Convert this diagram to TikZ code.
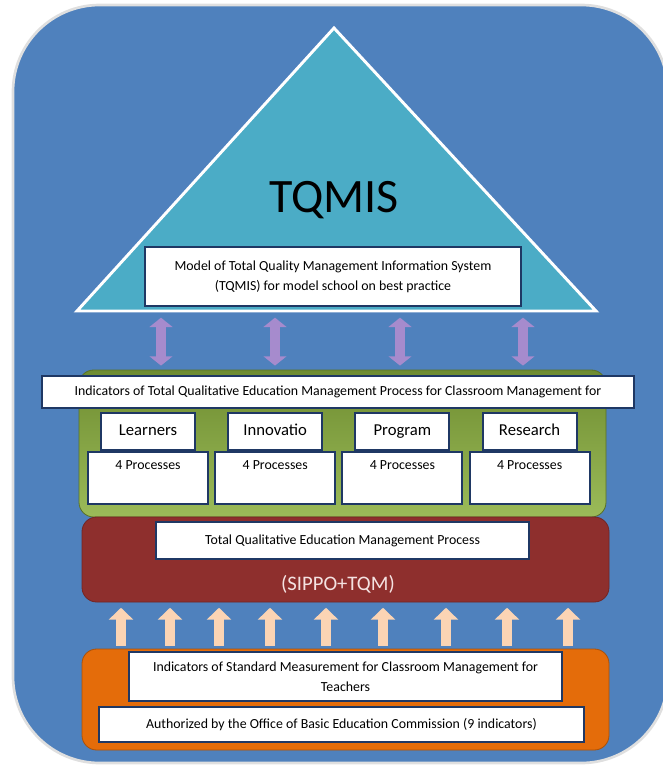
\documentclass[tikz,border=0pt]{standalone}
\usepackage{fontspec}
\setmainfont{Carlito}
\usepackage{tikz}
\usetikzlibrary{calc,positioning,arrows.meta,chains,shapes,fit,scopes}
\definecolor{bgblue}{HTML}{4F81BD}
\definecolor{pyramidcyan}{HTML}{4BACC6}
\definecolor{boxline}{HTML}{1F3864}
\definecolor{greendark}{HTML}{6E8C30}
\definecolor{greenlight}{HTML}{9BBB59}
\definecolor{reddark}{HTML}{8E2F2D}
\definecolor{redlight}{HTML}{C0504D}
\definecolor{orangepanel}{HTML}{E46C0A}
\definecolor{arrowpurple}{HTML}{A68BCD}
\definecolor{arrowpeach}{HTML}{FBD4B4}
\definecolor{sippopink}{HTML}{F4E2E1}
\tikzset{
    >={Triangle},
    whitebox/.style={
        rectangle,
        draw=boxline, line width=1.4pt,
        fill=white,
        align=center,
        inner sep=0pt
    },
    panel/.style={
        rectangle,
        rounded corners=11pt,
        minimum width=395.25pt,
        inner sep=0pt
    },
    catbox/.style={
        whitebox,
        minimum width=70.5pt,
        minimum height=27.75pt,
        text height=9pt, text depth=3pt,
        font=\fontsize{12.5}{15}\selectfont,
        on chain
    },
    procbox/.style={
        whitebox,
        minimum width=90pt,
        minimum height=39pt
    },
    purparrow/.style={
        draw=arrowpurple, line width=7.5pt,
        {Triangle[width=17pt,length=7pt]}-{Triangle[width=17pt,length=7pt]},
        shorten <=5pt, shorten >=3pt
    },
    peacharrow/.style={
        draw=arrowpeach, line width=7.5pt,
        -{Triangle[width=18pt,length=9pt]},
        shorten <=2pt, shorten >=4pt
    }
}

\begin{document}
\begin{tikzpicture}[
            x=0.75pt, y=-0.75pt,
            font=\fontsize{10.4}{15}\selectfont,
            pyramid/.style={
                fill=pyramidcyan,
                draw=white,
                line width=2.2pt,
                line join=miter
            },
            node distance=0pt and 23.5pt]
                \useasboundingbox (0,0) rectangle (663,768);
                \clip (0,0) rectangle (663,768);
                \draw[fill=bgblue, draw=gray!25, line width=2pt, rounded corners=65pt] (13,5) rectangle (668,763);

                \coordinate (apex) at (334,28);
                \coordinate (base left) at (77,311);
                \coordinate (base right) at (596,311);
                \draw[pyramid] (apex) -- (base right) -- (base left) -- cycle;
                \node (tqmis) at (334,200) {\fontsize{36}{40}\selectfont TQMIS};
                \node[whitebox, minimum width=282pt, minimum height=44pt] (model) at (333,276.5)
                    {Model of Total Quality Management Information System\\(TQMIS) for model school on best practice};

                \node[panel, minimum height=110.25pt, top color=greendark, bottom color=greenlight,
                      draw=greendark!80!black, line width=0.6pt] (green panel) at (342.5,443.5) {};
                \node[whitebox, minimum width=444pt, minimum height=24pt] (indicators) at (338,392)
                    {Indicators of Total Qualitative Education Management Process for Classroom Management for};
                { [start chain=cats going right]
                    \node[catbox] (L1) at (148,431.5) {Learners};
                    \node[catbox] (L2) {Innovatio};
                    \node[catbox] (L3) {Program};
                    \node[catbox] (L4) {Research};
                }
                \node[procbox, below=of L1] (P1) {4 Processes\\\strut};
                \node[procbox, below=of L2] (P2) {4 Processes\\\strut};
                \node[procbox, below=of L3] (P3) {4 Processes\\\strut};
                \node[procbox, below=of L4] (P4) {4 Processes\\\strut};

                \node[panel, minimum height=63.75pt, top color=reddark, middle color=redlight, bottom color=reddark,
                      draw=reddark!80!black, line width=0.6pt] (red panel) at (345.5,559.5) {};
                \node[whitebox, minimum width=279.75pt, minimum height=27.75pt] (tqem) at (342.5,540.5)
                    {Total Qualitative Education Management Process};
                \node[text=sippopink] (sippo) at (338,584) {\fontsize{15.5}{18}\selectfont (SIPPO+TQM)};

                \node[panel, minimum height=75.75pt, fill=orangepanel,
                      draw=orangepanel!75!black, line width=0.6pt] (orange panel) at (345.5,699.5) {};
                \node[whitebox, minimum width=324.75pt, minimum height=36.75pt] (standard) at (345.5,676.5)
                    {Indicators of Standard Measurement for Classroom Management for\\Teachers};
                \node[whitebox, minimum width=363.75pt, minimum height=26.25pt] (obec) at (341.5,724.5)
                    {Authorized by the Office of Basic Education Commission (9 indicators)};

                \draw[purparrow] (161,0 |- base left) -- (161,0 |- green panel.north);
                \draw[purparrow] (275,0 |- base left) -- (275,0 |- green panel.north);
                \draw[purparrow] (400,0 |- base left) -- (400,0 |- green panel.north);
                \draw[purparrow] (523,0 |- base left) -- (523,0 |- green panel.north);

                \draw[peacharrow] (121,0 |- orange panel.north) -- (121,0 |- red panel.south);
                \draw[peacharrow] (170,0 |- orange panel.north) -- (170,0 |- red panel.south);
                \draw[peacharrow] (219,0 |- orange panel.north) -- (219,0 |- red panel.south);
                \draw[peacharrow] (270,0 |- orange panel.north) -- (270,0 |- red panel.south);
                \draw[peacharrow] (326,0 |- orange panel.north) -- (326,0 |- red panel.south);
                \draw[peacharrow] (383,0 |- orange panel.north) -- (383,0 |- red panel.south);
                \draw[peacharrow] (446,0 |- orange panel.north) -- (446,0 |- red panel.south);
                \draw[peacharrow] (507,0 |- orange panel.north) -- (507,0 |- red panel.south);
                \draw[peacharrow] (568,0 |- orange panel.north) -- (568,0 |- red panel.south);
\end{tikzpicture}
\end{document}
